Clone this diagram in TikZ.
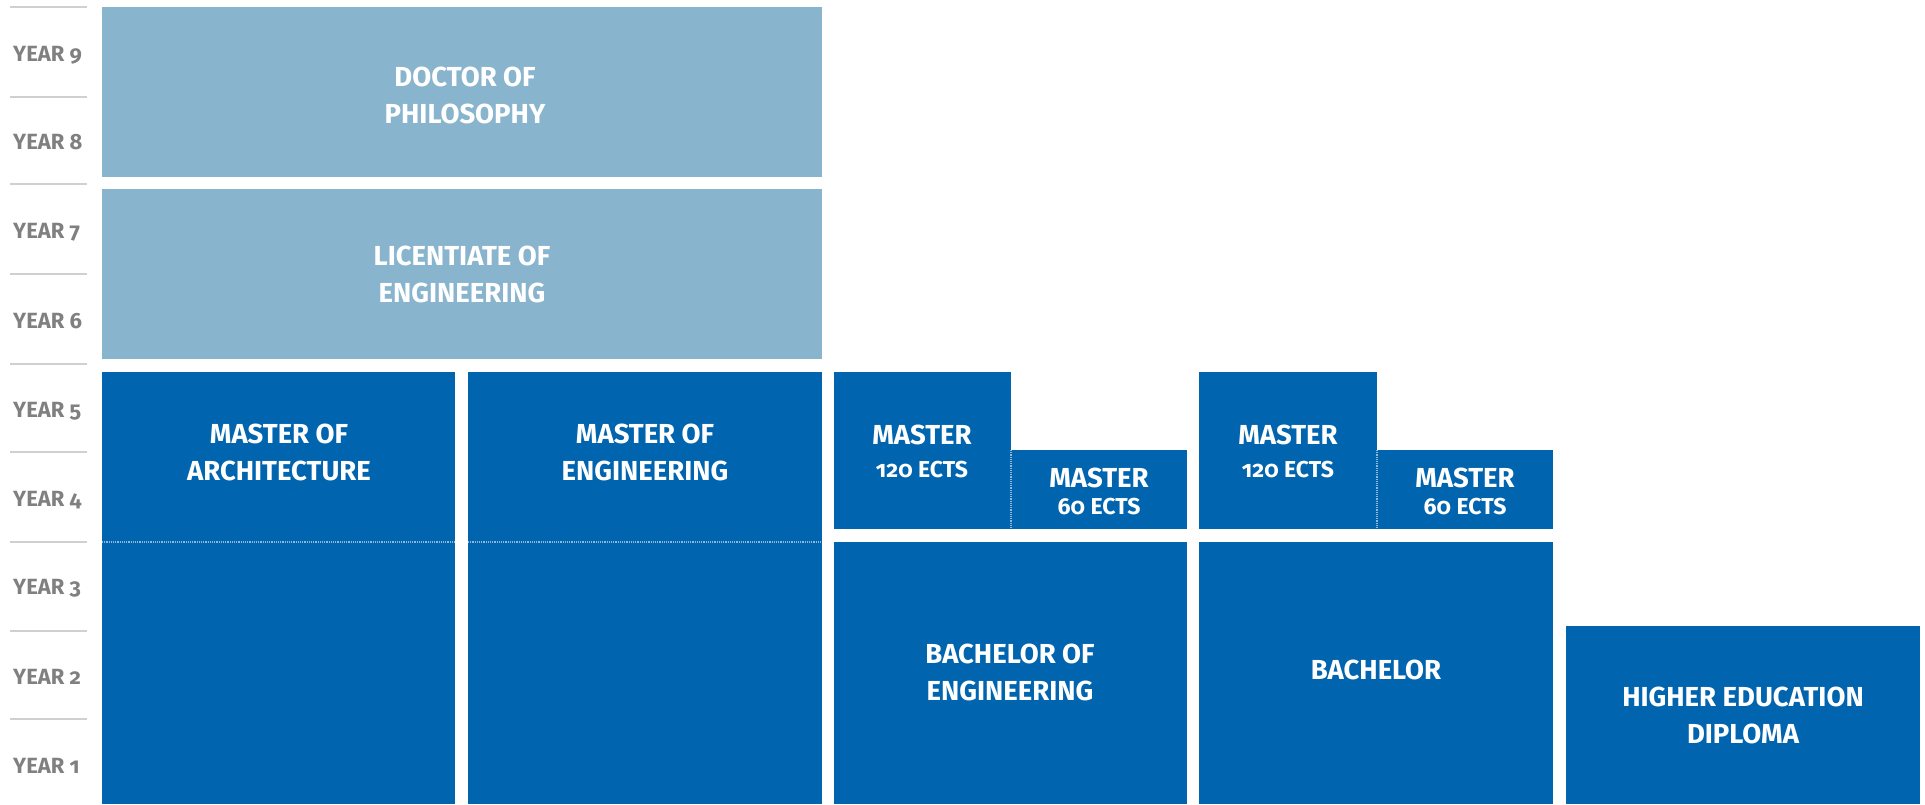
\documentclass[tikz,border=0pt]{standalone}
\usepackage{fontspec}
\setmainfont{Fira Sans}[BoldFont={Fira Sans Bold}, Numbers=OldStyle]
\definecolor{darkb}{RGB}{0,100,174}
\definecolor{lightb}{RGB}{137,180,206}
\definecolor{yeargray}{RGB}{128,128,128}
\definecolor{linegray}{RGB}{208,208,208}
\begin{document}
\begin{tikzpicture}[x=1pt,y=-1pt,
  lbox/.style={fill=lightb},
  dbox/.style={fill=darkb},
  title/.style={text=white, align=center, font=\bfseries\fontsize{27.5}{37}\selectfont, inner sep=0pt},
  mtitle/.style={text=white, align=center, font=\bfseries\fontsize{27.5}{33}\selectfont, inner sep=0pt},
  mstitle/.style={text=white, align=center, font=\bfseries\fontsize{27.5}{27}\selectfont, inner sep=0pt},
  yearlab/.style={text=yeargray, anchor=base west, font=\bfseries\fontsize{22}{24}\selectfont, inner sep=0pt},
  yearsep/.style={draw=linegray, line width=2pt},
  divider/.style={draw=white!55!darkb, line width=1.2pt, densely dotted}]
\useasboundingbox (0,0) rectangle (1925,804);

% year separators
\foreach \yy in {7,97,184,274,364,452,542,631,719}
  \draw[yearsep] (10,\yy) -- (87,\yy);

% year labels
\node[yearlab] (y9) at (13,61) {YEAR 9};
\node[yearlab] (y8) at (13,149) {YEAR 8};
\node[yearlab] (y7) at (13,238) {YEAR 7};
\node[yearlab] (y6) at (13,328) {YEAR 6};
\node[yearlab] (y5) at (13,417) {YEAR 5};
\node[yearlab] (y4) at (13,506) {YEAR 4};
\node[yearlab] (y3) at (13,594) {YEAR 3};
\node[yearlab] (y2) at (13,684) {YEAR 2};
\node[yearlab] (y1) at (13,773) {YEAR 1};

% light boxes
\fill[lbox] (102,7) rectangle (822,177);
\fill[lbox] (102,189) rectangle (822,359);

% dark boxes
\fill[dbox] (102,372) rectangle (455,804);
\fill[dbox] (468,372) rectangle (822,804);
\fill[dbox] (834,372) rectangle (1011,529);
\fill[dbox] (1011,450) rectangle (1187,529);
\fill[dbox] (834,542) rectangle (1187,804);
\fill[dbox] (1199,372) rectangle (1377,529);
\fill[dbox] (1377,450) rectangle (1553,529);
\fill[dbox] (1199,542) rectangle (1553,804);
\fill[dbox] (1566,626) rectangle (1920,804);

% dividers
\draw[divider] (102,542) -- (455,542);
\draw[divider] (468,542) -- (822,542);
\draw[divider] (1011,450) -- (1011,529);
\draw[divider] (1377,450) -- (1377,529);

% texts
\node[title] (phd) at (465,95) {DOCTOR OF\\PHILOSOPHY};
\node[title] (lic) at (462,274) {LICENTIATE OF\\ENGINEERING};
\node[title] (march) at (279,452) {MASTER OF\\ARCHITECTURE};
\node[title] (meng) at (645,452) {MASTER OF\\ENGINEERING};
\node[mtitle] (ma1) at (922,451) {MASTER\\{\fontsize{23}{33}\selectfont 120 ECTS}};
\node[mstitle] (mb1) at (1099,491) {MASTER\\{\fontsize{23}{27}\selectfont 60 ECTS}};
\node[mtitle] (ma2) at (1288,451) {MASTER\\{\fontsize{23}{33}\selectfont 120 ECTS}};
\node[mstitle] (mb2) at (1465,491) {MASTER\\{\fontsize{23}{27}\selectfont 60 ECTS}};
\node[title] (beng) at (1010,672) {BACHELOR OF\\ENGINEERING};
\node[title] (bach) at (1376,670) {BACHELOR};
\node[title] (hed) at (1743,715) {HIGHER EDUCATION\\DIPLOMA};
\end{tikzpicture}
\end{document}
